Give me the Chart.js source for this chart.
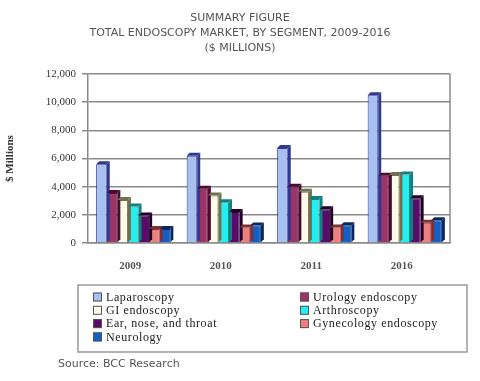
<!DOCTYPE html>
<html><head><meta charset="utf-8">
<script src="https://cdn.jsdelivr.net/npm/chart.js@4"></script>
<style>html,body{margin:0;padding:0;background:#fff;}#wrap{width:480px;height:381px;position:relative;}</style>
</head><body><div id="wrap"><canvas id="c" width="480" height="381"></canvas></div>
<script>
const categories = ['2009', '2010', '2011', '2016'];
const seriesNames = ['Laparoscopy', 'Urology endoscopy', 'GI endoscopy', 'Arthroscopy', 'Ear, nose, and throat', 'Gynecology endoscopy', 'Neurology'];
const laparoscopy = [5600, 6200, 6750, 10500];
const urology = [3550, 3850, 4000, 4780];
const giEndoscopy = [3050, 3370, 3640, 4820];
const arthroscopy = [2600, 2900, 3130, 4870];
const ent = [1960, 2200, 2400, 3180];
const gynecology = [1000, 1100, 1100, 1430];
const neurology = [1000, 1240, 1260, 1620];
const yTicks = [0, 2000, 4000, 6000, 8000, 10000, 12000];
const titleLines = ['SUMMARY FIGURE', 'TOTAL ENDOSCOPY MARKET, BY SEGMENT, 2009-2016', '($ MILLIONS)'];
const sourceText = 'Source: BCC Research';

const fills = ['#a8c0f0', '#9c3468', '#fffbe8', '#22f0f0', '#5a0a6a', '#f08080', '#1060c8'];
const sides = ['#303890', '#4a0a30', '#707050', '#108080', '#200028', '#803030', '#082860'];
const allValues = [laparoscopy, urology, giEndoscopy, arthroscopy, ent, gynecology, neurology];

const datasets = seriesNames.map((n, i) => ({
  label: n, data: allValues[i], backgroundColor: fills[i], borderColor: sides[i], borderWidth: 1,
  categoryPercentage: 0.82, barPercentage: 1.0
}));

const decor = {
  id: 'decor',
  beforeDatasetsDraw(chart) {
    const {ctx, chartArea: a} = chart;
    ctx.save();
    ctx.strokeStyle = '#8a8a8a'; ctx.lineWidth = 1.5;
    ctx.beginPath(); ctx.moveTo(a.right, a.top); ctx.lineTo(a.right, a.bottom); ctx.stroke();
    ctx.restore();
  },
  afterDatasetsDraw(chart) {
    const ctx = chart.ctx;
    const d = 3;
    ctx.save();
    chart.data.datasets.forEach((ds, i) => {
      chart.getDatasetMeta(i).data.forEach(bar => {
        const l = bar.x - bar.width / 2, r = bar.x + bar.width / 2, t = bar.y, b = bar.base;
        ctx.fillStyle = sides[i];
        ctx.beginPath(); ctx.moveTo(r, b); ctx.lineTo(r + d, b - d); ctx.lineTo(r + d, t - d); ctx.lineTo(r, t); ctx.closePath(); ctx.fill();
        ctx.beginPath(); ctx.moveTo(l, t); ctx.lineTo(l + d, t - d); ctx.lineTo(r + d, t - d); ctx.lineTo(r, t); ctx.closePath(); ctx.fill();
      });
    });
    ctx.restore();
  },
  afterDraw(chart) {
    const ctx = chart.ctx;
    ctx.save();
    ctx.fillStyle = '#555';
    ctx.font = '11px "DejaVu Sans", Verdana, sans-serif';
    ctx.textAlign = 'center'; ctx.textBaseline = 'middle';
    titleLines.forEach((t, i) => ctx.fillText(t, 240, 18 + i * 15));
    ctx.textAlign = 'left';
    ctx.font = '11px "DejaVu Sans", Verdana, sans-serif';
    ctx.fillText(sourceText, 58, 364);
    // legend
    ctx.strokeStyle = '#9a9a9a'; ctx.lineWidth = 1.5;
    ctx.strokeRect(78, 285, 389, 67);
    ctx.font = '12px "Liberation Serif", "Times New Roman", serif';
    ctx.letterSpacing = '0.6px';
    chart.data.datasets.forEach((ds, i) => {
      const col = i % 2, row = Math.floor(i / 2);
      const x = col === 0 ? 93 : 300, y = 297 + row * 13.3;
      ctx.fillStyle = ds.backgroundColor; ctx.fillRect(x, y - 4.5, 9, 9);
      ctx.strokeStyle = '#555'; ctx.lineWidth = 1; ctx.strokeRect(x + 0.5, y - 4, 8, 8);
      ctx.fillStyle = '#222';
      ctx.fillText(ds.label, x + 13, y + 0.5);
    });
    ctx.restore();
  }
};

new Chart(document.getElementById('c'), {
  type: 'bar',
  data: { labels: categories, datasets },
  options: {
    responsive: false, animation: false,
    layout: { padding: { top: 74, right: 30, bottom: 110, left: 4 } },
    plugins: { legend: { display: false }, title: { display: false }, tooltip: { enabled: false } },
    scales: {
      x: {
        grid: { display: false },
        border: { color: '#8a8a8a', width: 1.5 },
        ticks: { color: '#555', font: { family: '"Liberation Serif", serif', size: 11, weight: 'bold' }, labelOffset: -3, padding: 9 },
        afterFit(s) { s.height = 28; }
      },
      y: {
        min: 0, max: 12000,
        afterBuildTicks(s) { s.ticks = yTicks.map(v => ({ value: v })); },
        grid: { color: '#8a8a8a', lineWidth: 1.5, drawTicks: true, tickLength: 6 },
        border: { color: '#8a8a8a', width: 1.5 },
        ticks: { color: '#333', font: { family: '"Liberation Serif", serif', size: 11 }, padding: 6,
          callback: v => v.toLocaleString('en-US') },
        title: { display: true, text: '$ Millions', color: '#333', font: { family: '"Liberation Serif", serif', size: 11, weight: 'bold' }, padding: { top: 0, bottom: 12 } },
        afterFit(s) { s.width = 84; }
      }
    }
  },
  plugins: [decor]
});
</script></body></html>
